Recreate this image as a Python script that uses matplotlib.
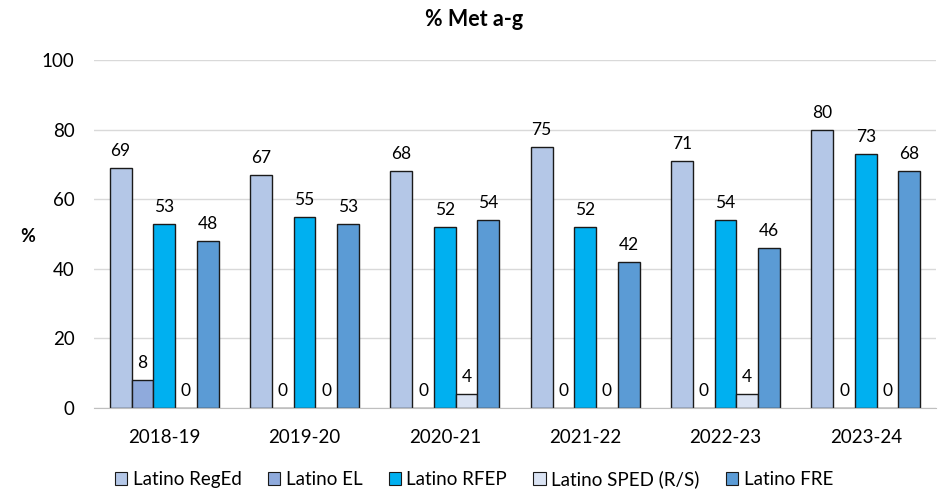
import numpy as np
import matplotlib.pyplot as plt
from matplotlib.patches import Patch

plt.rcParams['font.family'] = ['Lato', 'DejaVu Sans']

years = ["2018-19", "2019-20", "2020-21", "2021-22", "2022-23", "2023-24"]
series_names = ["Latino RegEd", "Latino EL", "Latino RFEP", "Latino SPED (R/S)", "Latino FRE"]
reged = [69, 67, 68, 75, 71, 80]
el = [8, 0, 0, 0, 0, 0]
rfep = [53, 55, 52, 52, 54, 73]
sped = [0, 0, 4, 0, 4, 0]
fre = [48, 53, 54, 42, 46, 68]
colors = ["#B4C7E7", "#8FAADC", "#00B0F0", "#DAE3F3", "#5B9BD5"]

fig = plt.figure(figsize=(9.42, 4.91), dpi=100)
ax = fig.add_axes([94/942, 1-408/491, 842/942, 348/491])

x = np.arange(len(years))
w = 0.155
all_vals = [reged, el, rfep, sped, fre]
for i, vals in enumerate(all_vals):
    pos = x + (i - 2) * w
    ax.bar(pos, vals, w, color=colors[i], edgecolor="#1a1a1a", linewidth=1.0, zorder=3)
    for p, v in zip(pos, vals):
        ax.text(p, v + 2.6, str(v), ha="center", va="bottom", fontsize=12.5, color="#000000")

ax.set_xlim(-0.5, len(years) - 0.5)
ax.set_ylim(0, 100)
ax.set_yticks(range(0, 101, 20))
ax.set_xticks(x)
ax.set_xticklabels(years, fontsize=13.5)
ax.tick_params(axis="y", labelsize=13.5, length=0, pad=14)
ax.tick_params(axis="x", length=0, pad=15)
ax.yaxis.grid(True, color="#D9D9D9", linewidth=1, zorder=0)
for s in ["top", "right", "left"]:
    ax.spines[s].set_visible(False)
ax.spines["bottom"].set_color("#BFBFBF")
ax.spines["bottom"].set_zorder(4)

fig.text(28/942, 1-237/491, "%", fontsize=13, fontweight="bold", ha="center", va="center")
fig.text(474/942, 1-20/491, "% Met a-g", fontsize=15.5, fontweight="bold", ha="center", va="center")

handles = [Patch(facecolor=c, edgecolor="#1a1a1a", linewidth=0.8) for c in colors]
fig.legend(handles, series_names, loc="center", bbox_to_anchor=(474/942, 1-479/491), ncol=5,
           frameon=False, fontsize=13.5, handlelength=0.65, handleheight=0.65,
           handletextpad=0.3, columnspacing=1.4)

fig.savefig("out.png", dpi=100)
